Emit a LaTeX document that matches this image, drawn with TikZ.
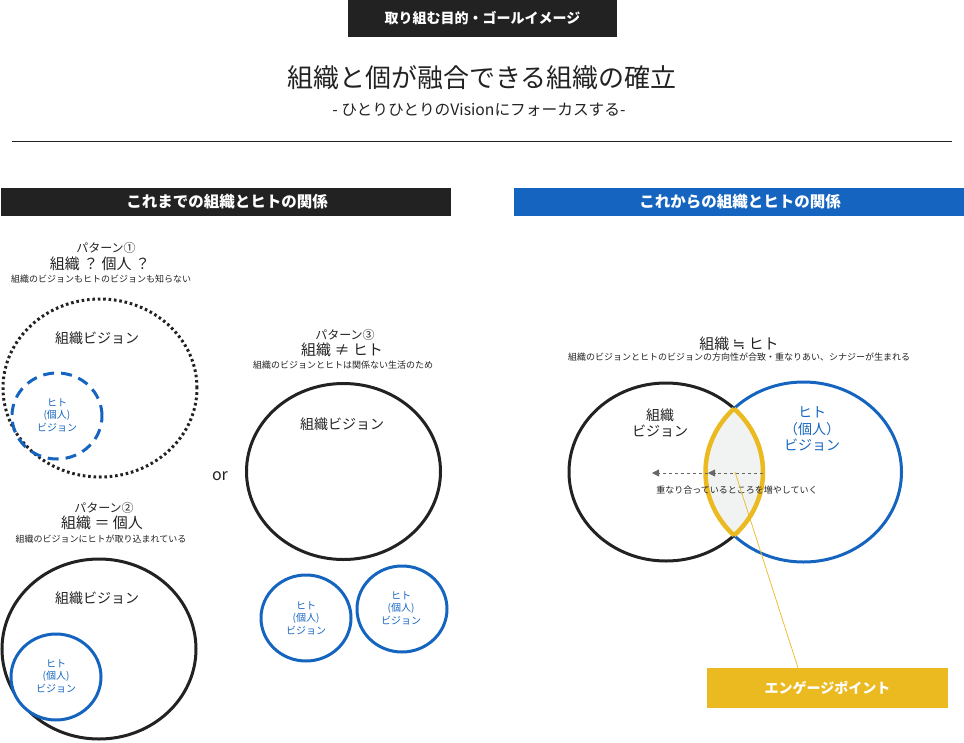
\documentclass[tikz,border=0pt]{standalone}
\usepackage{fontspec}
\setmainfont{Noto Sans CJK JP}
\newfontfamily\dejavu{DejaVu Sans}
\usetikzlibrary{arrows.meta}
\definecolor{dk}{HTML}{222222}
\definecolor{tx}{HTML}{222222}
\definecolor{bl}{HTML}{1565C0}
\definecolor{yel}{HTML}{EBB920}
\definecolor{lensfill}{HTML}{F1F2F2}
\definecolor{gr}{HTML}{666666}
\newcommand\fsz[2]{\fontsize{#1}{#2}\selectfont}
\begin{document}
\begin{tikzpicture}[x=1pt,y=-1pt,
  txt/.style={inner sep=0pt,text=tx,align=center},
  bltxt/.style={inner sep=0pt,text=bl,align=center},
  blkring/.style={draw=dk,line width=3pt},
  bluering/.style={draw=bl,line width=3pt},
  bar/.style={fill=dk},
  headtxt/.style={inner sep=0pt,text=white,font=\bfseries\fsz{14}{16}},
]
\useasboundingbox (0,0) rectangle (964,742);

% top header
\fill[bar] (348,0) rectangle (617,37);
\node[headtxt] (toph) at (482.5,18.5) {取り組む目的・ゴールイメージ};
\node[txt,font=\fsz{26}{30}] (title) at (482,78) {組織と個が融合できる組織の確立};
\node[txt,font=\fsz{15.7}{18}] (subt) at (479,110) {- ひとりひとりのVisionにフォーカスする-};
\draw[tx,line width=1pt] (12,141) -- (952,141);

% section bars
\fill[dk] (1,188) rectangle (451,216);
\node[headtxt,font=\bfseries\fsz{15.5}{18}] (lh) at (227,202) {これまでの組織とヒトの関係};
\fill[bl] (514,188) rectangle (964,216);
\node[headtxt,font=\bfseries\fsz{15.5}{18}] (rh) at (740,202) {これからの組織とヒトの関係};

% pattern 1
\node[txt,font=\fsz{12}{14}] (p1a) at (106,248) {パターン①};
\node[txt,font=\fsz{15}{17}] (p1b) at (100,264) {組織 ？ 個人 ？};
\node[txt,font=\fsz{9}{11}] (p1c) at (101,279) {組織のビジョンもヒトのビジョンも知らない};
\draw[dk,line width=3pt,dash pattern=on 2.6pt off 2.8pt] (100,388) ellipse [x radius=97pt,y radius=89pt];
\node[txt,font=\fsz{14}{16}] (p1o) at (97,338) {組織ビジョン};
\draw[bl,line width=3pt,dash pattern=on 11pt off 7pt] (57,416) ellipse [x radius=45pt,y radius=43pt];
\node[bltxt,font=\fsz{10}{12.5}] (p1h) at (57,415) {ヒト\\(個人)\\ビジョン};

% pattern 2
\node[txt,font=\fsz{12}{14}] (p2a) at (104,508) {パターン②};
\node[txt,font=\fsz{15}{17}] (p2b) at (102,523) {組織 ＝ 個人};
\node[txt,font=\fsz{9}{11}] (p2c) at (101,539) {組織のビジョンにヒトが取り込まれている};
\draw[blkring] (99,649) ellipse [x radius=97pt,y radius=90pt];
\node[txt,font=\fsz{14}{16}] (p2o) at (97,598) {組織ビジョン};
\draw[bluering,fill=white] (56,677) ellipse [x radius=45pt,y radius=43pt];
\node[bltxt,font=\fsz{10}{12.5}] (p2h) at (56,676) {ヒト\\(個人)\\ビジョン};

\node[txt,font=\fsz{16}{18}] (or) at (220,476) {or};

% pattern 3
\node[txt,font=\fsz{12}{14}] (p3a) at (345,335) {パターン③};
\node[txt,font=\fsz{15}{17}] (p3b) at (342,350) {組織 ≠ ヒト};
\node[txt,font=\fsz{9}{11}] (p3c) at (343,365) {組織のビジョンとヒトは関係ない生活のため};
\draw[blkring] (343.5,471.5) ellipse [x radius=97pt,y radius=88pt];
\node[txt,font=\fsz{14}{16}] (p3o) at (342,424) {組織ビジョン};
\draw[bluering] (306,618) ellipse [x radius=45pt,y radius=43pt];
\node[bltxt,font=\fsz{10}{12.5}] (p3h1) at (306,618) {ヒト\\(個人)\\ビジョン};
\draw[bluering] (402,609) ellipse [x radius=45pt,y radius=43pt];
\node[bltxt,font=\fsz{10}{12.5}] (p3h2) at (401,608) {ヒト\\(個人)\\ビジョン};

% right side
\node[txt,font=\fsz{15}{17}] (rb) at (739,344) {組織 {\dejavu ≒} ヒト};
\node[txt,font=\fsz{9}{11}] (rc) at (739,357) {組織のビジョンとヒトのビジョンの方向性が合致・重なりあい、シナジーが生まれる};
\draw[blkring] (666,472) ellipse [x radius=97pt,y radius=89pt];
\draw[bluering] (803.5,472) ellipse [x radius=98pt,y radius=90pt];
\begin{scope}
  \clip (666,472) ellipse [x radius=97pt,y radius=89pt];
  \fill[lensfill] (803.5,472) ellipse [x radius=98pt,y radius=90pt];
  \draw[yel,line width=4.5pt] (803.5,472) ellipse [x radius=98pt,y radius=90pt];
\end{scope}
\begin{scope}
  \clip (803.5,472) ellipse [x radius=98pt,y radius=90pt];
  \draw[yel,line width=4.5pt] (666,472) ellipse [x radius=97pt,y radius=89pt];
\end{scope}
\node[txt,font=\fsz{14}{16}] (ro) at (660,423) {組織\\ビジョン};
\node[bltxt,font=\fsz{14}{16.5}] (rh2) at (812,429) {ヒト\\（個人）\\ビジョン};

\coordinate (a0) at (763,473);
\coordinate (a1) at (708,473);
\coordinate (a2) at (652,473);
\draw[gr,dashed,line width=0.8pt,-{Triangle[length=7pt,width=7pt]}] (a0) -- (a1);
\draw[gr,dashed,line width=0.8pt,-{Triangle[length=7pt,width=7pt]}] (a1) -- (a2);
\node[txt,font=\fsz{9}{11}] (at) at (737,490) {重なり合っているところを増やしていく};

% engage point
\node[fill=yel,minimum width=241pt,minimum height=40pt,inner sep=0pt,text=white,font=\bfseries\fsz{14}{16}] (ep) at (827.5,688) {エンゲージポイント};
\coordinate (lc) at (735,472);
\draw[yel,line width=0.7pt] (lc) -- (ep.north -| 798,0);
\end{tikzpicture}
\end{document}
